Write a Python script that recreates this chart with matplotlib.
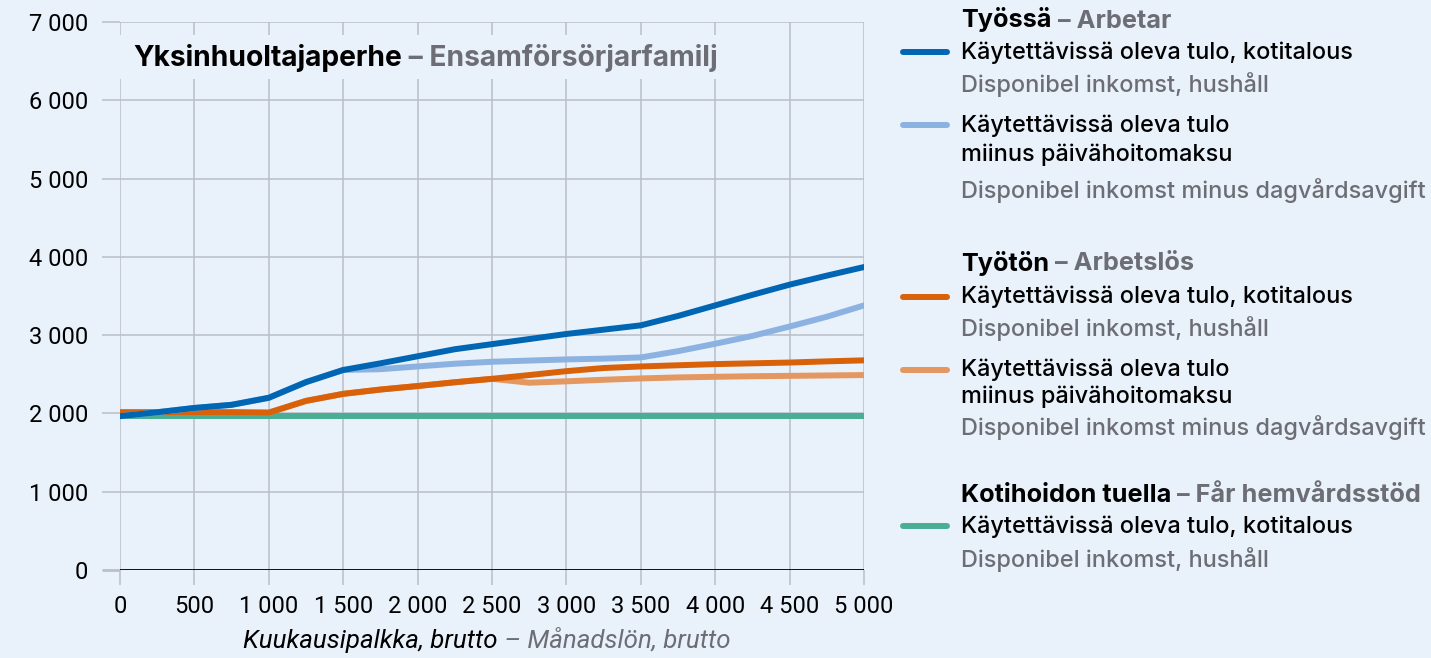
import matplotlib
matplotlib.use("Agg")
import matplotlib.pyplot as plt
from matplotlib.text import Annotation
from matplotlib.lines import Line2D
from matplotlib.patches import Rectangle
from matplotlib.ticker import FuncFormatter

# ---------------- data ----------------
salary = [0, 250, 500, 750, 1000, 1250, 1500, 1750, 2000, 2250, 2500,
          2750, 3000, 3250, 3500, 3750, 4000, 4250, 4500, 4750, 5000]
working = [1965, 2015, 2070, 2110, 2200, 2400, 2555, 2640, 2730, 2820, 2885,
           2950, 3015, 3070, 3125, 3245, 3380, 3515, 3645, 3760, 3870]
working_minus_fee = [1965, 2015, 2070, 2110, 2200, 2400, 2555, 2565, 2600, 2635, 2660,
                     2675, 2690, 2700, 2715, 2795, 2890, 2990, 3110, 3235, 3380]
unemployed = [2015, 2015, 2015, 2015, 2010, 2160, 2250, 2305, 2350, 2398, 2442,
              2490, 2540, 2580, 2600, 2615, 2630, 2640, 2650, 2665, 2678]
unemployed_minus_fee = [2015, 2015, 2015, 2015, 2010, 2160, 2250, 2305, 2350, 2398, 2442,
                        2392, 2410, 2430, 2447, 2460, 2468, 2475, 2480, 2485, 2490]
home_care = [1965] * 21

x_ticks = [0, 500, 1000, 1500, 2000, 2500, 3000, 3500, 4000, 4500, 5000]
y_ticks = [0, 1000, 2000, 3000, 4000, 5000, 6000, 7000]

# ---------------- style ----------------
W, H = 1431, 658
BG = "#e9f1fb"
GRID = "#b9bfc9"
GRAY = "#6d6e75"
C_BLUE = "#0066b3"
C_LBLUE = "#8cb2e2"
C_ORANGE = "#d9610a"
C_LORANGE = "#e4975f"
C_GREEN = "#4aae94"
LEG_FONT = ["Inter", "Roboto", "DejaVu Sans"]

plt.rcParams["font.family"] = ["Roboto", "DejaVu Sans"]

fig = plt.figure(figsize=(W / 100, H / 100), dpi=100, facecolor=BG)
ax = fig.add_axes([120 / W, 1 - 570 / H, (864 - 120) / W, (570 - 22) / H])
ax.set_facecolor(BG)

ax.set_xlim(0, 5000)
ax.set_ylim(0, 7000)
ax.set_xticks(x_ticks)
ax.set_yticks(y_ticks)
fmt = FuncFormatter(lambda v, p: f"{int(v):,}".replace(",", " "))
ax.xaxis.set_major_formatter(fmt)
ax.yaxis.set_major_formatter(fmt)

for s in ax.spines.values():
    s.set_visible(False)

ax.grid(True, color=GRID, linewidth=1.1, zorder=0)
ax.set_axisbelow(True)
ax.tick_params(axis="y", length=13, width=1.1, color=GRID, pad=10,
               labelsize=17, labelcolor="black")
ax.tick_params(axis="x", length=11, width=1.1, color=GRID, pad=7,
               labelsize=17, labelcolor="black")
ax.yaxis.get_major_ticks()[0].tick1line.set_color("black")
ax.yaxis.get_major_ticks()[0].tick1line.set_markeredgewidth(2)
ax.axhline(0, color="black", linewidth=2, zorder=2)

lw = 4.3
kw = dict(linewidth=lw, solid_capstyle="round", solid_joinstyle="round")
ax.plot(salary, home_care, color=C_GREEN, zorder=3, **kw)
ax.plot(salary, unemployed_minus_fee, color=C_LORANGE, zorder=4, **kw)
ax.plot(salary, unemployed, color=C_ORANGE, zorder=5, **kw)
ax.plot(salary, working_minus_fee, color=C_LBLUE, zorder=6, **kw)
ax.plot(salary, working, color=C_BLUE, zorder=7, **kw)


def fx(px):
    return px / W


def fy(py):
    return 1 - py / H


# background box behind the in-plot title
fig.add_artist(Rectangle((fx(112), fy(79)), fx(735) - fx(112), fy(35) - fy(79),
                         transform=fig.transFigure, facecolor=BG, edgecolor="none",
                         zorder=1))


def two_part(x, y, a, b, size, weight="bold", style="normal", family=LEG_FONT):
    t1 = fig.text(fx(x), fy(y), a, fontsize=size, fontweight=weight, style=style,
                  color="black", va="center", ha="left", family=family, zorder=3)
    fig.add_artist(Annotation(b, xy=(1, 0), xycoords=t1, va="bottom", ha="left",
                              fontsize=size, fontweight=weight, style=style,
                              color=GRAY, family=family, zorder=3))


two_part(133, 58, "Yksinhuoltajaperhe", " – Ensamförsörjarfamilj", 20.3)

two_part(243, 641, "Kuukausipalkka, brutto", " – Månadslön, brutto", 18.6,
         weight="normal", style="italic", family=["Roboto", "DejaVu Sans"])

# legend
LX = 961
HX0, HX1 = 903, 947


def handle(y, color):
    fig.add_artist(Line2D([fx(HX0), fx(HX1)], [fy(y), fy(y)], color=color,
                          linewidth=lw, solid_capstyle="round",
                          transform=fig.transFigure))


def line_text(y, s, color="black"):
    fig.text(fx(LX), fy(y), s, fontsize=16.9, color=color, va="center", ha="left",
             fontweight="medium", family=LEG_FONT)


GT = 18.2
two_part(LX, 20, "Työssä", " – Arbetar", GT)
handle(52, C_BLUE)
line_text(53, "Käytettävissä oleva tulo, kotitalous")
line_text(85, "Disponibel inkomst, hushåll", GRAY)
handle(125, C_LBLUE)
line_text(126, "Käytettävissä oleva tulo")
line_text(155, "miinus päivähoitomaksu")
line_text(191, "Disponibel inkomst minus dagvårdsavgift", GRAY)

two_part(LX, 263, "Työtön", " – Arbetslös", GT)
handle(297, C_ORANGE)
line_text(297, "Käytettävissä oleva tulo, kotitalous")
line_text(329, "Disponibel inkomst, hushåll", GRAY)
handle(370, C_LORANGE)
line_text(370, "Käytettävissä oleva tulo")
line_text(397, "miinus päivähoitomaksu")
line_text(428, "Disponibel inkomst minus dagvårdsavgift", GRAY)

two_part(LX, 495, "Kotihoidon tuella", " – Får hemvårdsstöd", GT)
handle(526, C_GREEN)
line_text(527, "Käytettävissä oleva tulo, kotitalous")
line_text(560, "Disponibel inkomst, hushåll", GRAY)

fig.savefig("out.png", dpi=100, facecolor=BG)
